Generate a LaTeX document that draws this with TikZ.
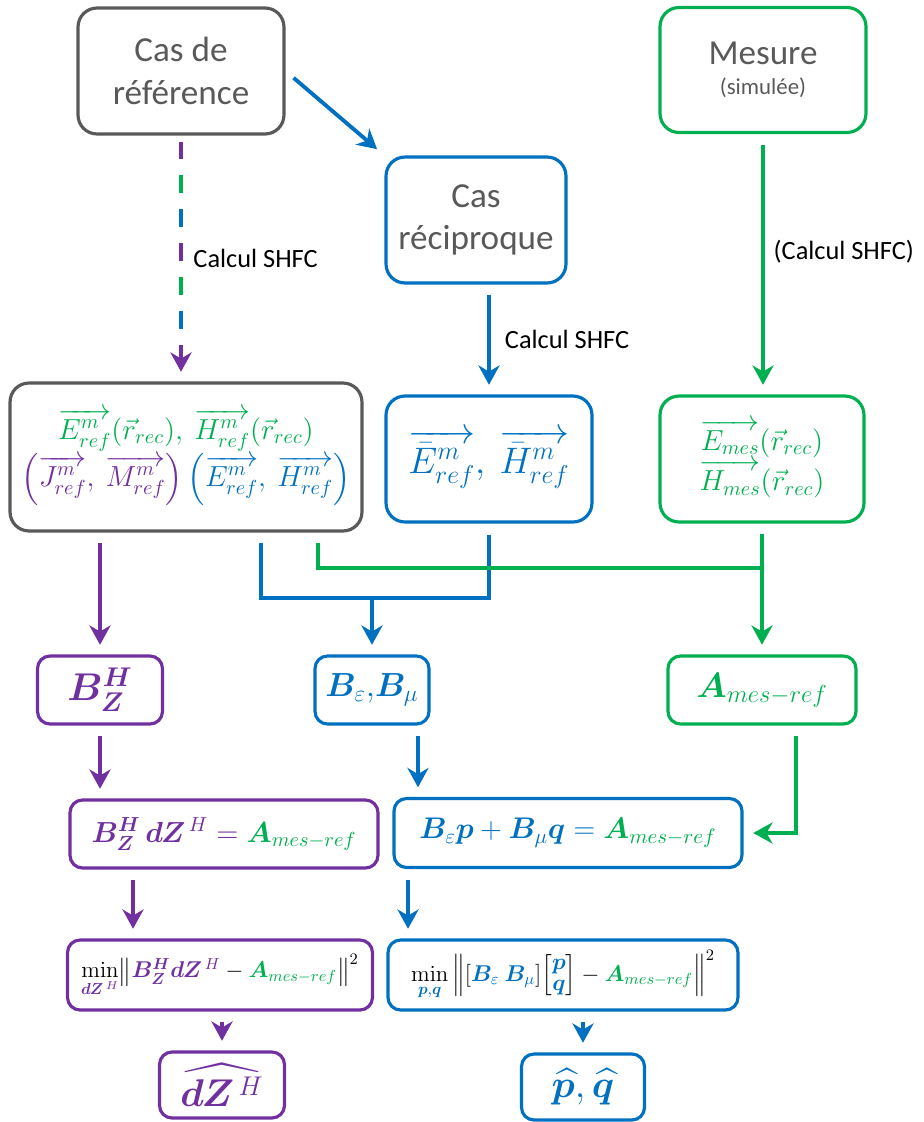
\RequirePackage{fix-cm}
\documentclass[tikz,border=0pt]{standalone}
\usepackage{amsmath}
\usepackage{amssymb}
\usepackage{bm}
\usepackage[no-math]{fontspec}
\setmainfont{Carlito}
\usetikzlibrary{arrows.meta}
\definecolor{refgray}{HTML}{595959}
\definecolor{recblue}{HTML}{0070C0}
\definecolor{mesgreen}{HTML}{00B050}
\definecolor{zpurple}{HTML}{7030A0}

\begin{document}
\begin{tikzpicture}[x=0.02cm,y=-0.02cm,
    box/.style={draw,line width=1.8pt,rounded corners=0.38cm,align=center,inner sep=0pt},
    sbox/.style={box,rounded corners=0.25cm},
    wire/.style={line width=2.2pt},
    conn/.style={wire,-{Stealth[length=11pt,width=12pt,inset=3.5pt]},shorten <=6pt,shorten >=5.5pt},
    lab/.style={font=\fontsize{15}{18}\selectfont,text=black,inner sep=2pt}]
        \useasboundingbox (0,0) rectangle (923,1122);
        % top row
        \node[box,draw=refgray,text=refgray,minimum width=4.12cm,minimum height=2.52cm,font=\fontsize{20}{24}\selectfont] (ref) at (181,71) {Cas de\\référence};
        \node[box,draw=recblue,text=refgray,minimum width=3.6cm,minimum height=2.52cm,font=\fontsize{20}{24}\selectfont] (recip) at (476,220) {Cas\\réciproque};
        \node[box,draw=mesgreen,text=refgray,minimum width=4.12cm,minimum height=2.5cm,font=\fontsize{20}{24}\selectfont] (mes) at (763,70) {Mesure\\[-7pt]{\fontsize{13}{16}\selectfont (simulée)}};
        % fields
        \node[box,draw=refgray,minimum width=7.04cm,minimum height=2.96cm,font=\fontsize{16.5}{22}\selectfont] (fields) at (186,457) {\textcolor{mesgreen}{$\overrightarrow{E^{m}_{ref}}(\vec{r}_{rec}),\ \overrightarrow{H^{m}_{ref}}(\vec{r}_{rec})$}\\ \textcolor{zpurple}{$\left(\overrightarrow{J^{m}_{ref}},\ \overrightarrow{M^{m}_{ref}}\right)$}\,\textcolor{recblue}{$\left(\overrightarrow{E^{m}_{ref}},\ \overrightarrow{H^{m}_{ref}}\right)$}};
        \node[box,draw=recblue,text=recblue,minimum width=4.12cm,minimum height=2.52cm,font=\fontsize{21}{25}\selectfont] (ebar) at (489,459) {$\overrightarrow{\bar{E}^{m}_{ref}},\ \overrightarrow{\bar{H}^{m}_{ref}}$};
        \node[box,draw=mesgreen,text=mesgreen,minimum width=4.08cm,minimum height=2.52cm,font=\fontsize{16.5}{23}\selectfont] (emes) at (762,459) {$\overrightarrow{E_{mes}}(\vec{r}_{rec})$\\$\overrightarrow{H_{mes}}(\vec{r}_{rec})$};
        % matrices
        \node[sbox,draw=zpurple,text=zpurple,minimum width=2.5cm,minimum height=1.36cm,font=\fontsize{22}{26}\selectfont] (bzh) at (100,690) {$\bm{B^{H}_{Z}}$};
        \node[sbox,draw=recblue,text=recblue,minimum width=2.28cm,minimum height=1.36cm,font=\fontsize{19}{23}\selectfont] (beps) at (372,690) {$\bm{B}_{\varepsilon},\!\bm{B}_{\mu}$};
        \node[sbox,draw=mesgreen,text=mesgreen,minimum width=3.76cm,minimum height=1.36cm,font=\fontsize{20}{24}\selectfont] (ames) at (762,690) {$\bm{A}_{mes-ref}$};
        % equations
        \node[sbox,draw=zpurple,text=zpurple,minimum width=6.16cm,minimum height=1.36cm,font=\fontsize{16.5}{20}\selectfont] (eq1) at (224,834) {$\bm{B^{H}_{Z}\,dZ}^{\,H}=\textcolor{mesgreen}{\bm{A}_{mes-ref}}$};
        \node[sbox,draw=recblue,text=recblue,minimum width=6.96cm,minimum height=1.38cm,font=\fontsize{17}{20}\selectfont] (eq2) at (568,833) {$\bm{B}_{\varepsilon}\bm{p}+\bm{B}_{\mu}\bm{q}=\textcolor{mesgreen}{\bm{A}_{mes-ref}}$};
        \node[sbox,draw=zpurple,minimum width=6.1cm,minimum height=1.4cm,font=\fontsize{13}{16}\selectfont] (min1) at (220,975) {$\min\limits_{\textcolor{zpurple}{\bm{dZ}^{\,H}}}\!\left\|\textcolor{zpurple}{\bm{B^{H}_{Z}dZ}^{\,H}}-\textcolor{mesgreen}{\bm{A}_{mes-ref}}\right\|^{2}$};
        \node[sbox,draw=recblue,minimum width=7cm,minimum height=1.4cm,font=\fontsize{13}{16}\selectfont] (min2) at (563,975) {$\renewcommand{\arraystretch}{0.75}\min\limits_{\textcolor{recblue}{\bm{p},\bm{q}}}\left\|\left[\textcolor{recblue}{\bm{B}_{\varepsilon}\ \bm{B}_{\mu}}\right]\!\left[\begin{array}{@{}c@{}}\textcolor{recblue}{\bm{p}}\\\textcolor{recblue}{\bm{q}}\end{array}\right]-\textcolor{mesgreen}{\bm{A}_{mes-ref}}\right\|^{2}$};
        % results
        \node[sbox,draw=zpurple,text=zpurple,minimum width=2.5cm,minimum height=1.32cm,font=\fontsize{22}{26}\selectfont] (dzhat) at (222,1085) {$\widehat{\bm{dZ}^{\,H}}$};
        \node[sbox,draw=recblue,text=recblue,minimum width=2.46cm,minimum height=1.32cm,font=\fontsize{22}{26}\selectfont] (pqhat) at (583,1087) {$\widehat{\bm{p}},\widehat{\bm{q}}$};
        % connectors
        \draw[conn,recblue] (ref.east) -- (recip.north west);
        \draw[wire,mesgreen,shorten <=3.4pt,shorten >=27pt,dash pattern=on 10.2pt off 47.6pt,dash phase=38.5pt] (ref.south) -- (ref.south |- fields.north);
        \draw[wire,recblue,shorten <=3.4pt,shorten >=27pt,dash pattern=on 10.2pt off 47.6pt,dash phase=19.2pt] (ref.south) -- (ref.south |- fields.north);
        \draw[conn,zpurple,shorten <=3.4pt,dash pattern=on 10.2pt off 47.6pt] (ref.south) -- (ref.south |- fields.north) node[lab,right,midway,xshift=4pt] (l1) {Calcul SHFC};
        \draw[conn,recblue] (ebar.north |- recip.south) -- (ebar.north) node[lab,right,midway,xshift=6pt] (l2) {Calcul SHFC};
        \draw[conn,mesgreen] (mes.south) -- (mes.south |- emes.north) node[lab,right,pos=0.45,xshift=3pt] (l3) {(Calcul SHFC)};
        \draw[conn,zpurple] (bzh.north |- fields.south) -- (bzh.north);
        \coordinate (jb) at (372,598);
        \coordinate (jg) at (762,568);
        \draw[wire,recblue] ([xshift=1.5cm,yshift=-0.2cm]fields.south) |- (jb) -| ([yshift=-0.22cm]ebar.south);
        \draw[conn,recblue,shorten <=0pt] (jb) -- (beps.north);
        \draw[wire,mesgreen] ([xshift=2.64cm,yshift=-0.2cm]fields.south) |- (jg);
        \draw[conn,mesgreen] (emes.south) -- (ames.north);
        \draw[conn,mesgreen] ([xshift=0.68cm]ames.south) |- (eq2.east);
        \draw[conn,zpurple] (bzh.south) -- (bzh.south |- eq1.north);
        \draw[conn,recblue] ([xshift=0.92cm]beps.south) -- ([xshift=0.92cm]beps.south |- eq2.north);
        \draw[conn,zpurple] ([xshift=-1.82cm]eq1.south) -- ([xshift=-1.82cm]eq1.south |- min1.north);
        \draw[conn,recblue] ([xshift=-3.2cm]eq2.south) -- ([xshift=-3.2cm]eq2.south |- min2.north);
        \draw[conn,zpurple] (dzhat.north |- min1.south) -- (dzhat.north);
        \draw[conn,recblue] (pqhat.north |- min2.south) -- (pqhat.north);
\end{tikzpicture}
\end{document}
